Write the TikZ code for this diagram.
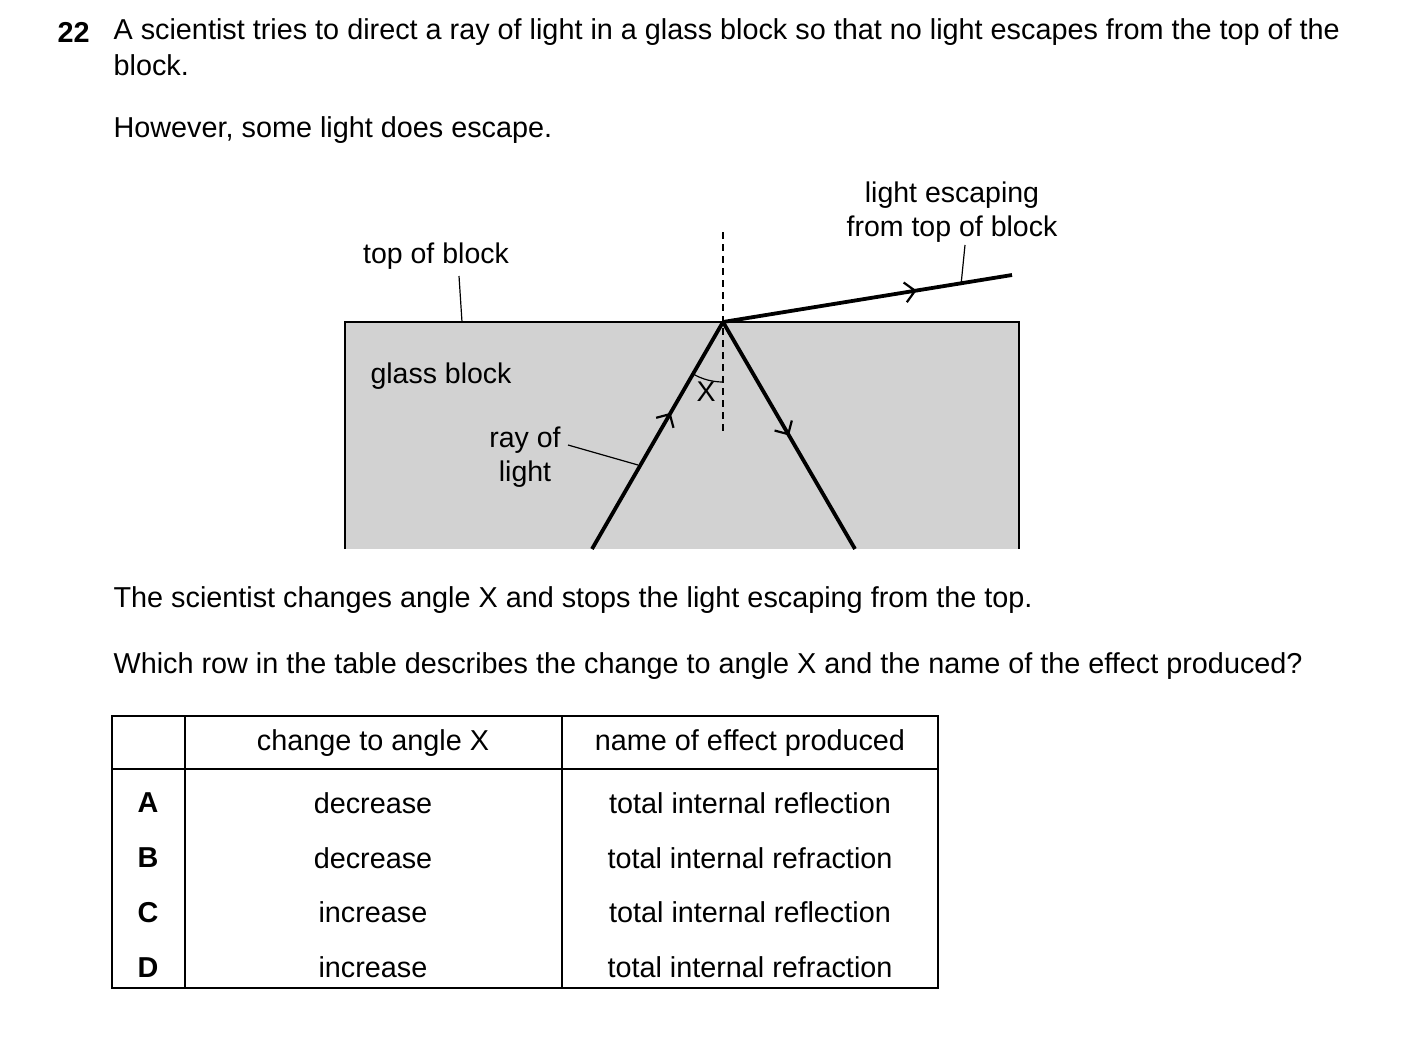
\documentclass[tikz,border=0pt]{standalone}
\usepackage{fontspec}
\setmainfont{Liberation Sans}
\usetikzlibrary{arrows.meta,calc}
\begin{document}
\begin{tikzpicture}[x=1pt, y=-1pt, line width=1.2pt, >={Straight Barb[length=10pt,width=20pt,line width=2.2pt]},
  txt/.style={inner sep=0pt, font=\fontsize{28.8}{34}\selectfont},
  lbl/.style={inner sep=0pt, font=\fontsize{28.5}{34}\selectfont, align=center},
  ray/.style={line width=3.8pt},
  lead/.style={line width=1.2pt}]

\useasboundingbox (0,0) rectangle (1403,1038);

% question text
\node[txt, font=\fontsize{28.8}{34}\selectfont\bfseries, anchor=west] (num) at (57,32) {22};
\node[txt, anchor=west] (q1) at (113,32) {A scientist tries to direct a ray of light in a glass block so that no light escapes from the top of the};
\node[txt, anchor=west] (q2) at (113,65) {block.};
\node[txt, anchor=west] (q3) at (113,130) {However, some light does escape.};

% glass block
\fill[gray!35] (345,322) rectangle (1019,549);
\draw[line width=2.4pt] (345,549) -- (345,322) -- (1019,322) -- (1019,549);

\coordinate (P) at (723,322);
\coordinate (inL) at (592,549);
\coordinate (outR) at (855,549);
\coordinate (esc) at (1012,275);
\coordinate (nTop) at (723,232);
\coordinate (nBot) at (723,435);

\draw[dash pattern=on 7pt off 5pt, line width=1.2pt] (nTop) -- (nBot);
\draw[ray, ->] (inL) -- ($(inL)!0.6!(P)$);
\draw[ray] ($(inL)!0.58!(P)$) -- (P);
\draw[ray, ->] (P) -- ($(P)!0.5!(outR)$);
\draw[ray] ($(P)!0.48!(outR)$) -- (outR);
\draw[ray, ->] (P) -- ($(P)!0.67!(esc)$);
\draw[ray] ($(P)!0.65!(esc)$) -- (esc);
\draw[line width=1.2pt] (P) ++(120:60) arc[start angle=120, end angle=90, radius=60];

% labels
\node[lbl] (X) at (706,392) {X};
\node[lbl] (top) at (436,256) {top of block};
\draw[lead] (459,276) -- (462,322);
\node[lbl] (glass) at (441,376) {glass block};
\node[lbl] (ray) at (525,457) {ray of\\light};
\draw[lead] (568,445) -- (638,465);
\node[lbl] (escape) at (952,212) {light escaping\\from top of block};
\draw[lead] (965,245) -- (961,285);

\node[txt, anchor=west] (q4) at (113,600) {The scientist changes angle X and stops the light escaping from the top.};
\node[txt, anchor=west] (q5) at (113,666) {Which row in the table describes the change to angle X and the name of the effect produced?};

% table
\draw[line width=1.6pt] (112,716) rectangle (938,988);
\draw[line width=1.6pt] (185,716) -- (185,988) (562,716) -- (562,988) (112,769) -- (938,769);
\node[txt] (h1) at (373,743) {change to angle X};
\node[txt] (h2) at (750,743) {name of effect produced};
\foreach \l/\c/\e [count=\i] in {A/decrease/reflection, B/decrease/refraction, C/increase/reflection, D/increase/refraction} {
  \pgfmathsetmacro{\yy}{803+(\i-1)*54.7}
  \node[txt, font=\fontsize{28.8}{34}\selectfont\bfseries] (l\i) at (148,\yy) {\l};
  \node[txt] (c\i) at (373,\yy) {\c};
  \node[txt] (e\i) at (750,\yy) {total internal \e};
}
\end{tikzpicture}
\end{document}
